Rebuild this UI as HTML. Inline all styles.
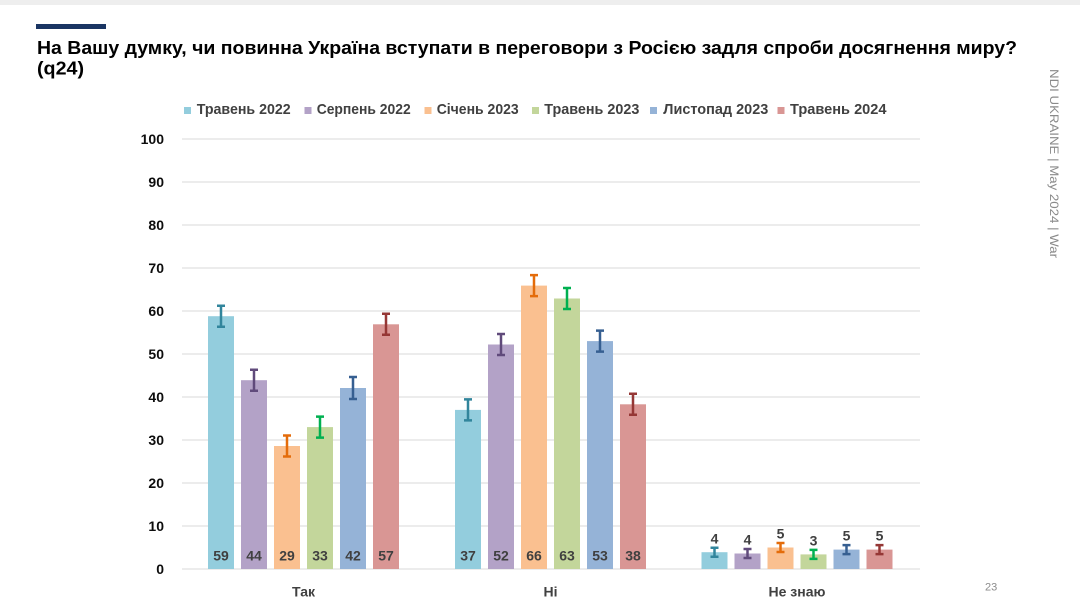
<!DOCTYPE html>
<html><head><meta charset="utf-8"><style>
html,body{margin:0;padding:0;background:#fff;}
svg{display:block;}
text{font-family:"Liberation Sans","DejaVu Sans",sans-serif;}
</style></head><body>
<svg width="1080" height="608" viewBox="0 0 1080 608" xmlns="http://www.w3.org/2000/svg">
<rect x="0" y="0" width="1080" height="608" fill="#fff"/>
<rect x="0" y="0" width="1080" height="5" fill="#eeeeee"/>
<rect x="36" y="24" width="70" height="5" fill="#1a3563"/>
<text x="37" y="54" font-size="18" font-weight="bold" fill="#000" textLength="980" lengthAdjust="spacingAndGlyphs">На Вашу думку, чи повинна Україна вступати в переговори з Росією задля спроби досягнення миру?</text>
<text x="37" y="74.5" font-size="18" font-weight="bold" fill="#000" textLength="47" lengthAdjust="spacingAndGlyphs">(q24)</text>

<!-- legend -->
<g font-size="15" font-weight="bold" fill="#404040">
<rect x="184" y="107" width="7" height="7" fill="#93CDDD"/><text x="196.7" y="114" textLength="94" lengthAdjust="spacingAndGlyphs">Травень 2022</text>
<rect x="304.5" y="107" width="7" height="7" fill="#B3A2C7"/><text x="316.7" y="114" textLength="94" lengthAdjust="spacingAndGlyphs">Серпень 2022</text>
<rect x="424.5" y="107" width="7" height="7" fill="#FAC090"/><text x="436.7" y="114" textLength="82" lengthAdjust="spacingAndGlyphs">Січень 2023</text>
<rect x="532" y="107" width="7" height="7" fill="#C3D69B"/><text x="544.3" y="114" textLength="95" lengthAdjust="spacingAndGlyphs">Травень 2023</text>
<rect x="650" y="107" width="7" height="7" fill="#95B3D7"/><text x="663.3" y="114" textLength="105" lengthAdjust="spacingAndGlyphs">Листопад 2023</text>
<rect x="777.5" y="107" width="7" height="7" fill="#D99694"/><text x="790" y="114" textLength="96.5" lengthAdjust="spacingAndGlyphs">Травень 2024</text>
</g>

<!-- gridlines -->
<g stroke="#d9d9d9" stroke-width="1">
<line x1="182" x2="920" y1="139" y2="139"/>
<line x1="182" x2="920" y1="182" y2="182"/>
<line x1="182" x2="920" y1="225" y2="225"/>
<line x1="182" x2="920" y1="268" y2="268"/>
<line x1="182" x2="920" y1="311" y2="311"/>
<line x1="182" x2="920" y1="354" y2="354"/>
<line x1="182" x2="920" y1="397" y2="397"/>
<line x1="182" x2="920" y1="440" y2="440"/>
<line x1="182" x2="920" y1="483" y2="483"/>
<line x1="182" x2="920" y1="526" y2="526"/>
<line x1="182" x2="920" y1="569" y2="569"/>
</g>

<!-- y labels -->
<g font-size="14" font-weight="bold" fill="#0d0d0d" text-anchor="end">
<text x="164" y="144">100</text>
<text x="164" y="187">90</text>
<text x="164" y="230">80</text>
<text x="164" y="273">70</text>
<text x="164" y="316">60</text>
<text x="164" y="359">50</text>
<text x="164" y="402">40</text>
<text x="164" y="445">30</text>
<text x="164" y="488">20</text>
<text x="164" y="531">10</text>
<text x="164" y="574">0</text>
</g>

<!-- bars: Так -->
<rect x="208" y="316.2" width="26" height="252.8" fill="#93CDDD"/>
<rect x="241" y="380.2" width="26" height="188.8" fill="#B3A2C7"/>
<rect x="274" y="446" width="26" height="123" fill="#FAC090"/>
<rect x="307" y="427.1" width="26" height="141.9" fill="#C3D69B"/>
<rect x="340" y="388" width="26" height="181" fill="#95B3D7"/>
<rect x="373" y="324.3" width="26" height="244.7" fill="#D99694"/>
<!-- bars: Ні -->
<rect x="455" y="409.9" width="26" height="159.1" fill="#93CDDD"/>
<rect x="488" y="344.5" width="26" height="224.5" fill="#B3A2C7"/>
<rect x="521" y="285.6" width="26" height="283.4" fill="#FAC090"/>
<rect x="554" y="298.5" width="26" height="270.5" fill="#C3D69B"/>
<rect x="587" y="341.1" width="26" height="227.9" fill="#95B3D7"/>
<rect x="620" y="404.3" width="26" height="164.7" fill="#D99694"/>
<!-- bars: Не знаю -->
<rect x="701.5" y="552.2" width="26" height="16.8" fill="#93CDDD"/>
<rect x="734.5" y="553.5" width="26" height="15.5" fill="#B3A2C7"/>
<rect x="767.5" y="547.5" width="26" height="21.5" fill="#FAC090"/>
<rect x="800.5" y="554.4" width="26" height="14.6" fill="#C3D69B"/>
<rect x="833.5" y="549.6" width="26" height="19.4" fill="#95B3D7"/>
<rect x="866.5" y="549.6" width="26" height="19.4" fill="#D99694"/>

<!-- error bars -->
<g stroke-width="2.5" fill="none">
<path stroke="#31859C" d="M221 305.7V326.7M217 305.7H225M217 326.7H225"/>
<path stroke="#604A7B" d="M254 369.7V390.7M250 369.7H258M250 390.7H258"/>
<path stroke="#E46C0A" d="M287 435.5V456.5M283 435.5H291M283 456.5H291"/>
<path stroke="#00B050" d="M320 416.6V437.6M316 416.6H324M316 437.6H324"/>
<path stroke="#365F91" d="M353 377V399M349 377H357M349 399H357"/>
<path stroke="#953735" d="M386 313.8V334.8M382 313.8H390M382 334.8H390"/>

<path stroke="#31859C" d="M468 399.4V420.4M464 399.4H472M464 420.4H472"/>
<path stroke="#604A7B" d="M501 334V355M497 334H505M497 355H505"/>
<path stroke="#E46C0A" d="M534 275.1V296.1M530 275.1H538M530 296.1H538"/>
<path stroke="#00B050" d="M567 288V309M563 288H571M563 309H571"/>
<path stroke="#365F91" d="M600 330.6V351.6M596 330.6H604M596 351.6H604"/>
<path stroke="#953735" d="M633 393.8V414.8M629 393.8H637M629 414.8H637"/>

<path stroke="#31859C" d="M714.5 547.7V556.7M710.5 547.7H718.5M710.5 556.7H718.5"/>
<path stroke="#604A7B" d="M747.5 549V558M743.5 549H751.5M743.5 558H751.5"/>
<path stroke="#E46C0A" d="M780.5 543V552M776.5 543H784.5M776.5 552H784.5"/>
<path stroke="#00B050" d="M813.5 549.9V558.9M809.5 549.9H817.5M809.5 558.9H817.5"/>
<path stroke="#365F91" d="M846.5 545.1V554.1M842.5 545.1H850.5M842.5 554.1H850.5"/>
<path stroke="#953735" d="M879.5 545.1V554.1M875.5 545.1H883.5M875.5 554.1H883.5"/>
</g>

<!-- value labels -->
<g font-size="14" font-weight="bold" fill="#404040" text-anchor="middle">
<text x="221" y="560.5">59</text>
<text x="254" y="560.5">44</text>
<text x="287" y="560.5">29</text>
<text x="320" y="560.5">33</text>
<text x="353" y="560.5">42</text>
<text x="386" y="560.5">57</text>
<text x="468" y="560.5">37</text>
<text x="501" y="560.5">52</text>
<text x="534" y="560.5">66</text>
<text x="567" y="560.5">63</text>
<text x="600" y="560.5">53</text>
<text x="633" y="560.5">38</text>
<text x="714.5" y="543.3">4</text>
<text x="747.5" y="544.5">4</text>
<text x="780.5" y="538.5">5</text>
<text x="813.5" y="545.4">3</text>
<text x="846.5" y="540.6">5</text>
<text x="879.5" y="540.6">5</text>
</g>

<!-- category labels -->
<g font-size="14" font-weight="bold" fill="#404040" text-anchor="middle">
<text x="303.5" y="596.5">Так</text>
<text x="550.5" y="596.5">Ні</text>
<text x="797" y="596.5">Не знаю</text>
</g>

<text transform="translate(1050,69) rotate(90)" x="0" y="0" font-size="12" fill="#8a8a8a" textLength="189" lengthAdjust="spacingAndGlyphs">NDI UKRAINE | May 2024 | War</text>
<text x="985" y="590.5" font-size="11" fill="#8c8c8c">23</text>
</svg>
</body></html>
